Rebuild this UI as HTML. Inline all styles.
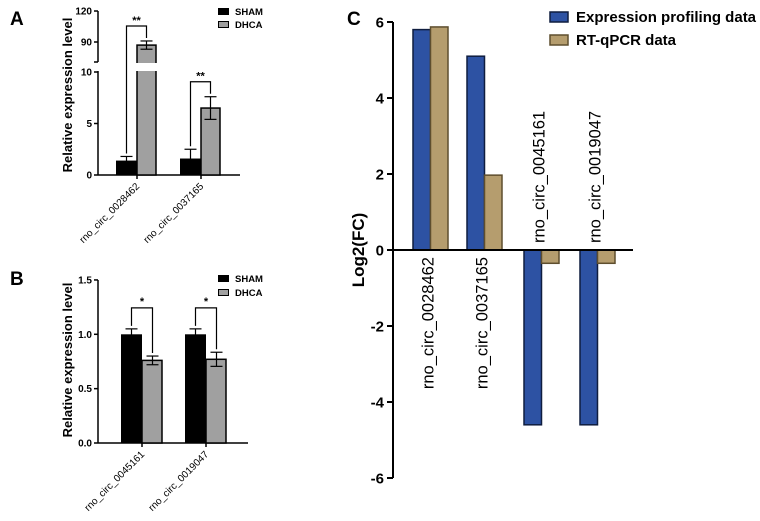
<!DOCTYPE html>
<html><head><meta charset="utf-8"><style>
body{margin:0;background:#fff;}
svg{display:block;font-family:"Liberation Sans",Arial,sans-serif;font-weight:bold;}
</style></head><body>
<svg width="760" height="521" viewBox="0 0 760 521">
<g id="A"></g>
<g id="B"></g>
<g id="C"></g>
</svg>
<script>
const NS='http://www.w3.org/2000/svg';
function mk(p,t,a,txt){const e=document.createElementNS(NS,t);for(const k in a)e.setAttribute(k,a[k]);if(txt!==undefined)e.textContent=txt;p.appendChild(e);return e;}

// Panel A data
const aCats=['rno_circ_0028462','rno_circ_0037165'];
const aSham=[1.4,1.6];
const aShamErr=[0.4,0.9];
const aDhca=[87,6.5];
const aDhcaErr=[4,1.1];
const aSig=['**','**'];
// Panel B data
const bCats=['rno_circ_0045161','rno_circ_0019047'];
const bSham=[1.0,1.0];
const bShamErr=[0.05,0.05];
const bDhca=[0.76,0.77];
const bDhcaErr=[0.04,0.065];
const bSig=['*','*'];
const bTicks=[0,0.5,1.0,1.5];
// Panel C data
const cCats=['rno_circ_0028462','rno_circ_0037165','rno_circ_0045161','rno_circ_0019047'];
const cProfile=[5.8,5.1,-4.6,-4.6];
const cQpcr=[5.87,1.97,-0.35,-0.35];
const cTicks=[6,4,2,0,-2,-4,-6];

// ---------- Panel A ----------
(function(){
const g=document.getElementById('A');
const yA=v=> v<=10 ? 175-v*10.3 : 42-(v-90)*1.033;
const ax=98, x0=[116,180], bw=21;
let t=mk(g,'text',{x:10,y:25,'font-size':19},'A');

t=mk(g,'text',{transform:'translate(72,95) rotate(-90)','text-anchor':'middle','font-size':13},'Relative expression level');

mk(g,'line',{x1:ax,y1:175,x2:ax,y2:71,stroke:'#000','stroke-width':1.5});
mk(g,'line',{x1:ax,y1:62,x2:ax,y2:11,stroke:'#000','stroke-width':1.5});
mk(g,'line',{x1:ax,y1:175,x2:240,y2:175,stroke:'#000','stroke-width':1.5});
[[0,'0'],[5,'5'],[10,'10'],[90,'90'],[120,'120']].forEach(([v,l])=>{
 const y=yA(v);mk(g,'line',{x1:ax-4,y1:y,x2:ax,y2:y,stroke:'#000','stroke-width':1.5});
 const e=mk(g,'text',{x:ax-6,y:y+3.5,'text-anchor':'end','font-size':10},l);
 
});
mk(g,'line',{x1:ax-4,y1:62,x2:ax,y2:62,stroke:'#000','stroke-width':1.5});
aCats.forEach((c,i)=>{
 const xs=x0[i], xd=xs+bw;
 let r=mk(g,'rect',{x:xs,y:yA(aSham[i]),width:bw,height:175-yA(aSham[i]),fill:'#000'});
 
 r=mk(g,'rect',{x:xd,y:yA(aDhca[i]),width:bw-2,height:175-yA(aDhca[i]),fill:'#a0a0a0',stroke:'#000','stroke-width':1.5});
 
 if(aDhca[i]>10){mk(g,'rect',{x:xd-1,y:63,width:bw+1,height:8,fill:'#fff'});}
 [[xs+bw/2,aSham[i],aShamErr[i]],[xd+bw/2-1,aDhca[i],aDhcaErr[i]]].forEach(([cx,v,e])=>{
  const y1=yA(v+e),y2=yA(Math.max(v-e,0));
  mk(g,'line',{x1:cx,y1:y1,x2:cx,y2:y2,stroke:'#000','stroke-width':1.2});
  mk(g,'line',{x1:cx-6,y1:y1,x2:cx+6,y2:y1,stroke:'#000','stroke-width':1.2});
  mk(g,'line',{x1:cx-6,y1:y2,x2:cx+6,y2:y2,stroke:'#000','stroke-width':1.2});
 });
 const by=yA(aDhca[i]+aDhcaErr[i])-15;
 const sx=xs+bw/2, dx=xd+bw/2-1;
 mk(g,'path',{d:`M${sx},${yA(aSham[i]+aShamErr[i])-3}V${by}H${dx}V${yA(aDhca[i]+aDhcaErr[i])-3}`,fill:'none',stroke:'#000','stroke-width':1.2});
 t=mk(g,'text',{x:(sx+dx)/2,y:by-2,'text-anchor':'middle','font-size':11},aSig[i]);
 
 const tx=xs+bw;
 mk(g,'line',{x1:tx,y1:175,x2:tx,y2:179,stroke:'#000','stroke-width':1.5});
 t=mk(g,'text',{transform:`translate(${tx+3},${187}) rotate(-45)`,'text-anchor':'end','font-size':10,'font-weight':'normal'},c);
 
});
let r=mk(g,'rect',{x:218,y:8,width:11,height:7,fill:'#000'});
t=mk(g,'text',{x:235,y:15,'font-size':9.5},'SHAM');
r=mk(g,'rect',{x:218.5,y:21.5,width:10,height:6,fill:'#a0a0a0',stroke:'#000'});
t=mk(g,'text',{x:235,y:28,'font-size':9.5},'DHCA');
})();

// ---------- Panel B ----------
(function(){
const g=document.getElementById('B');
const yB=v=>443-v*108.7;
const ax=98, x0=[121,185], bw=21;
let t=mk(g,'text',{x:10,y:285,'font-size':19},'B');

t=mk(g,'text',{transform:'translate(72,360) rotate(-90)','text-anchor':'middle','font-size':13},'Relative expression level');

mk(g,'line',{x1:ax,y1:443,x2:ax,y2:yB(1.5),stroke:'#000','stroke-width':1.5});
mk(g,'line',{x1:ax,y1:443,x2:248,y2:443,stroke:'#000','stroke-width':1.5});
bTicks.forEach(v=>{const y=yB(v);mk(g,'line',{x1:ax-4,y1:y,x2:ax,y2:y,stroke:'#000','stroke-width':1.5});
 const e=mk(g,'text',{x:ax-6,y:y+3.5,'text-anchor':'end','font-size':10},v.toFixed(1));
 });
bCats.forEach((c,i)=>{
 const xs=x0[i], xd=xs+bw;
 let r=mk(g,'rect',{x:xs,y:yB(bSham[i]),width:bw,height:443-yB(bSham[i]),fill:'#000'});
 
 r=mk(g,'rect',{x:xd,y:yB(bDhca[i]),width:bw-1,height:443-yB(bDhca[i]),fill:'#a0a0a0',stroke:'#000','stroke-width':1.5});
 
 [[xs+bw/2,bSham[i],bShamErr[i]],[xd+bw/2,bDhca[i],bDhcaErr[i]]].forEach(([cx,v,e])=>{
  const y1=yB(v+e),y2=yB(v-e);
  mk(g,'line',{x1:cx,y1:y1,x2:cx,y2:y2,stroke:'#000','stroke-width':1.2});
  mk(g,'line',{x1:cx-6,y1:y1,x2:cx+6,y2:y1,stroke:'#000','stroke-width':1.2});
  mk(g,'line',{x1:cx-6,y1:y2,x2:cx+6,y2:y2,stroke:'#000','stroke-width':1.2});
 });
 const by=yB(bSham[i]+bShamErr[i])-21;
 const sx=xs+bw/2, dx=xd+bw/2;
 mk(g,'path',{d:`M${sx},${yB(bSham[i]+bShamErr[i])-3}V${by}H${dx}V${yB(bDhca[i]+bDhcaErr[i])-3}`,fill:'none',stroke:'#000','stroke-width':1.2});
 t=mk(g,'text',{x:(sx+dx)/2,y:by-3,'text-anchor':'middle','font-size':11},bSig[i]);
 
 const tx=xs+bw;
 mk(g,'line',{x1:tx,y1:443,x2:tx,y2:447,stroke:'#000','stroke-width':1.5});
 t=mk(g,'text',{transform:`translate(${tx+3},${455}) rotate(-45)`,'text-anchor':'end','font-size':10,'font-weight':'normal'},c);
 
});
let r=mk(g,'rect',{x:218,y:275,width:11,height:7,fill:'#000'});
t=mk(g,'text',{x:235,y:282,'font-size':9.5},'SHAM');
r=mk(g,'rect',{x:218.5,y:289.5,width:10,height:6,fill:'#a0a0a0',stroke:'#000'});
t=mk(g,'text',{x:235,y:296,'font-size':9.5},'DHCA');
})();

// ---------- Panel C ----------
(function(){
const g=document.getElementById('C');
const yC=v=>250-v*38;
const ax=393, gx=[413,467,524,580], bw=17.5;
let t=mk(g,'text',{x:347,y:25,'font-size':19},'C');

t=mk(g,'text',{transform:'translate(364,250) rotate(-90)','text-anchor':'middle','font-size':17},'Log2(FC)');

mk(g,'line',{x1:ax,y1:yC(6),x2:ax,y2:yC(-6),stroke:'#000','stroke-width':2});
cTicks.forEach(v=>{const y=yC(v);mk(g,'line',{x1:ax-6,y1:y,x2:ax,y2:y,stroke:'#000','stroke-width':2});
 const e=mk(g,'text',{x:ax-9,y:y+5.5,'text-anchor':'end','font-size':15},String(v));
 });
cCats.forEach((c,i)=>{
 const xb=gx[i], xq=xb+bw;
 [[xb,cProfile[i],'#2d52a3','bar-expression-profiling'],[xq,cQpcr[i],'#b59d6e','bar-rt-qpcr']].forEach(([x,v,col,n])=>{
  const y=Math.min(yC(v),yC(0)),h=Math.abs(yC(v)-yC(0));
  const r=mk(g,'rect',{x:x,y:y,width:bw,height:h,fill:col,stroke:col=='#2d52a3'?'#0f1d3f':'#5e4e2e','stroke-width':1.5});
  
 });
 const cx=xb+bw+3;
 let e;
 if(cProfile[i]>=0) e=mk(g,'text',{transform:`translate(${cx},257) rotate(-90)`,'text-anchor':'end','font-size':16.5,'font-weight':'normal'},c);
 else e=mk(g,'text',{transform:`translate(${cx},243) rotate(-90)`,'text-anchor':'start','font-size':16.5,'font-weight':'normal'},c);
 
});
mk(g,'line',{x1:ax,y1:yC(0),x2:633,y2:yC(0),stroke:'#000','stroke-width':2});
let r=mk(g,'rect',{x:550,y:12,width:18,height:10,fill:'#2d52a3',stroke:'#0f1d3f','stroke-width':1.5});
t=mk(g,'text',{x:576,y:22,'font-size':15},'Expression profiling data');
r=mk(g,'rect',{x:550,y:35,width:18,height:10,fill:'#b59d6e',stroke:'#5e4e2e','stroke-width':1.5});
t=mk(g,'text',{x:576,y:45,'font-size':15},'RT-qPCR data');
})();
</script>
</body></html>
